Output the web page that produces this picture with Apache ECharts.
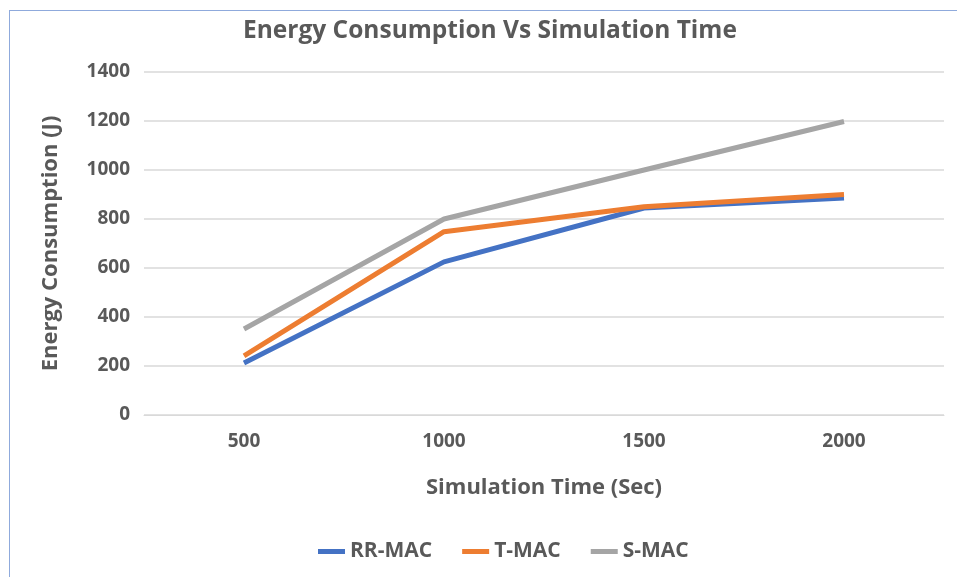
<!DOCTYPE html>
<html><head><meta charset="utf-8">
<script src="https://cdn.jsdelivr.net/npm/echarts@6/dist/echarts.min.js"></script>
<style>
html,body{margin:0;padding:0;background:#fff;}
#frame{position:absolute;left:9px;top:10px;width:948px;height:567px;border-top:1.5px solid #8FAADC;border-left:1.5px solid #8FAADC;box-sizing:border-box;}
#c{position:absolute;left:0;top:0;width:957px;height:577px;}
</style></head>
<body><div id="frame"></div><div id="c"></div>
<script>
const categories = ['500','1000','1500','2000'];
const rrMac = [212, 625, 845, 886];
const tMac = [241, 748, 850, 900];
const sMac = [351, 800, 1000, 1198];
const yTicks = {min:0, max:1400, interval:200};

const font = 'Open Sans, Lato, sans-serif';
const chart = echarts.init(document.getElementById('c'));
chart.setOption({
  animation:false,
  title:{text:'Energy Consumption Vs Simulation Time',left:238,top:14,
    textStyle:{fontFamily:font,fontSize:24.5,fontWeight:'bold',color:'#595959'}},
  grid:{left:144,right:13,top:72,bottom:162},
  legend:{top:536,left:313,itemWidth:27,itemHeight:5,itemGap:30,icon:'rect',
    textStyle:{fontFamily:font,fontSize:21,fontWeight:'bold',color:'#595959',padding:[0,0,0,0]},
    data:['RR-MAC','T-MAC','S-MAC']},
  xAxis:{type:'category',data:categories,boundaryGap:true,
    name:'Simulation Time (Sec)',nameLocation:'middle',nameGap:62,
    nameTextStyle:{fontFamily:font,fontSize:22,fontWeight:'bold',color:'#595959'},
    axisLine:{lineStyle:{color:'#D9D9D9'}},axisTick:{show:false},
    axisLabel:{fontFamily:font,fontSize:19,fontWeight:'bold',color:'#595959',margin:17}},
  yAxis:{type:'value',min:yTicks.min,max:yTicks.max,interval:yTicks.interval,
    name:'Energy Consumption (J)',nameLocation:'middle',nameGap:82,
    nameTextStyle:{fontFamily:font,fontSize:22,fontWeight:'bold',color:'#595959'},
    axisLine:{show:false},axisTick:{show:false},
    splitLine:{lineStyle:{color:'#D9D9D9',width:1.5}},
    axisLabel:{fontFamily:font,fontSize:19,fontWeight:'bold',color:'#595959',margin:14,
      formatter:function(v){return String(v);}}},
  series:[
    {name:'RR-MAC',type:'line',data:rrMac,showSymbol:false,symbol:'none',lineStyle:{width:5,color:'#4472C4'},itemStyle:{color:'#4472C4'}},
    {name:'T-MAC',type:'line',data:tMac,showSymbol:false,symbol:'none',lineStyle:{width:5,color:'#ED7D31'},itemStyle:{color:'#ED7D31'}},
    {name:'S-MAC',type:'line',data:sMac,showSymbol:false,symbol:'none',lineStyle:{width:5,color:'#A5A5A5'},itemStyle:{color:'#A5A5A5'}}
  ]
});
</script></body></html>
